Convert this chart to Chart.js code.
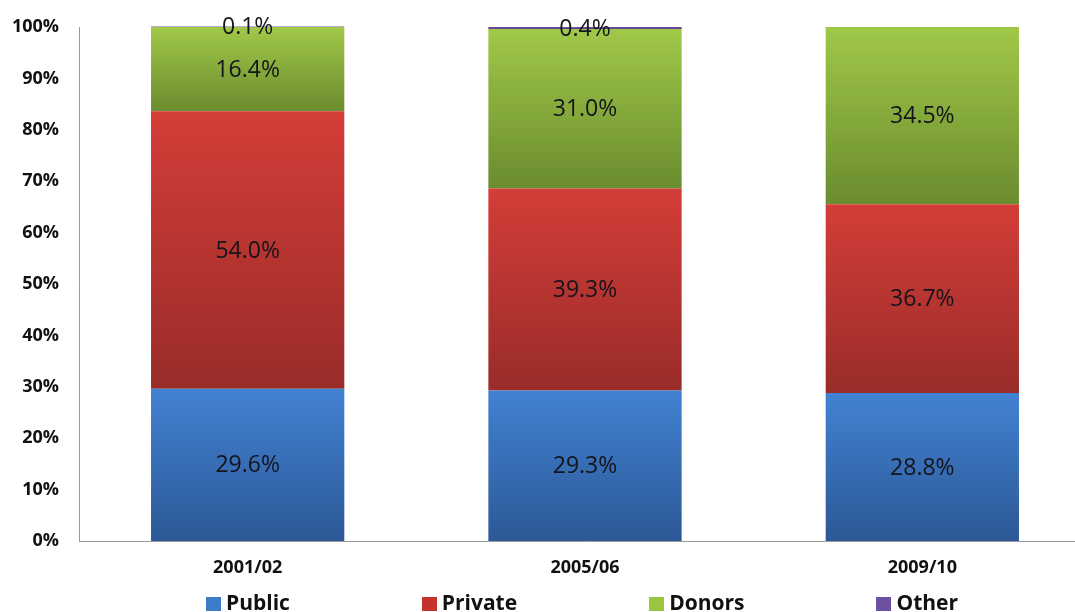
<!DOCTYPE html>
<html>
<head>
<meta charset="utf-8">
<script src="https://cdn.jsdelivr.net/npm/chart.js@4"></script>
<style>
  html, body { margin: 0; padding: 0; background: #fff; }
  #wrap { width: 1075px; height: 612px; overflow: hidden; position: relative; }
  canvas { display: block; }
</style>
</head>
<body>
<div id="wrap"><canvas id="c" width="1092" height="612" style="width:1092px;height:612px"></canvas></div>
<script>
// ---- data ----
const categories = ['2001/02', '2005/06', '2009/10'];
const seriesNames = ['Public', 'Private', 'Donors', 'Other'];
const publicShare = [29.6, 29.3, 28.8];
const privateShare = [54.0, 39.3, 36.7];
const donorsShare = [16.4, 31.0, 34.5];
const otherShare = [0.1, 0.4, 0];
const yTickValues = [0, 10, 20, 30, 40, 50, 60, 70, 80, 90, 100];

// ---- styles ----
const gradTop = ['#4282d2', '#d43d38', '#a0c848', '#7555a8'];
const gradBottom = ['#2c5896', '#992c29', '#6a8c2f', '#5a3f88'];
const legendColors = ['#3d7cc9', '#c4322d', '#9bc53d', '#6e4fa0'];
const FONT = '"Open Sans", "Noto Sans", "DejaVu Sans", sans-serif';

const allSeries = [publicShare, privateShare, donorsShare, otherShare];

function segmentFill(i) {
  return function (ctx) {
    const chart = ctx.chart;
    if (ctx.type !== 'data' || !chart.chartArea || !chart.scales.y) return gradTop[i];
    const idx = ctx.dataIndex;
    let start = 0;
    for (let k = 0; k < i; k++) start += allSeries[k][idx];
    const end = start + allSeries[i][idx];
    const y0 = chart.scales.y.getPixelForValue(start);
    const y1 = chart.scales.y.getPixelForValue(end);
    if (!isFinite(y0) || !isFinite(y1) || Math.abs(y0 - y1) < 0.01) return gradTop[i];
    const g = chart.ctx.createLinearGradient(0, y1, 0, y0);
    g.addColorStop(0, gradTop[i]);
    g.addColorStop(1, gradBottom[i]);
    return g;
  };
}

const datasets = allSeries.map((vals, i) => ({
  label: seriesNames[i],
  data: vals,
  backgroundColor: segmentFill(i),
  borderWidth: 0,
  categoryPercentage: 1.0,
  barPercentage: 0.573,
  clip: i === 3 ? false : undefined
}));

const valueLabels = {
  id: 'valueLabels',
  afterDatasetsDraw(chart) {
    const ctx = chart.ctx;
    ctx.save();
    ctx.font = '23px ' + FONT;
    ctx.fillStyle = '#14141c';
    ctx.textAlign = 'center';
    ctx.textBaseline = 'middle';
    chart.data.datasets.forEach((ds, di) => {
      const meta = chart.getDatasetMeta(di);
      meta.data.forEach((el, j) => {
        const v = ds.data[j];
        if (!(v > 0)) return;
        const p = el.getCenterPoint();
        ctx.fillText(v.toFixed(1) + '%', p.x, p.y + 1);
      });
    });
    ctx.restore();
  }
};

const bottomLegend = {
  id: 'bottomLegend',
  afterDraw(chart) {
    const ctx = chart.ctx;
    const area = chart.chartArea;
    ctx.save();
    ctx.font = 'bold 21px ' + FONT;
    ctx.textBaseline = 'alphabetic';
    ctx.textAlign = 'left';
    const box = 15, boxH = 14, gapText = 5, gapItem = 132;
    const names = chart.data.datasets.map(d => d.label);
    const widths = names.map(n => box + gapText + ctx.measureText(n).width);
    const total = widths.reduce((a, b) => a + b, 0) + gapItem * (names.length - 1);
    let x = (area.left + area.right) / 2 - 3 - total / 2;
    const baseline = area.bottom + 69;
    names.forEach((n, i) => {
      ctx.fillStyle = legendColors[i];
      ctx.fillRect(Math.round(x), baseline - 13, box, boxH);
      ctx.fillStyle = '#111';
      ctx.fillText(n, x + box + gapText, baseline);
      x += widths[i] + gapItem;
    });
    ctx.restore();
  }
};

new Chart(document.getElementById('c'), {
  type: 'bar',
  data: { labels: categories, datasets },
  options: {
    responsive: false,
    animation: false,
    devicePixelRatio: 1,
    layout: { padding: { top: 27, right: 1, bottom: 36, left: 0 } },
    plugins: {
      legend: { display: false },
      tooltip: { enabled: false }
    },
    scales: {
      x: {
        stacked: true,
        grid: { display: false, drawTicks: false },
        border: { display: true, color: '#9a9a9a', width: 1 },
        ticks: {
          color: '#111',
          font: { family: FONT, size: 18, weight: 'bold' },
          padding: 16
        },
        afterFit(s) { s.height = 35; }
      },
      y: {
        stacked: true,
        min: 0,
        max: 100,
        afterBuildTicks(s) { s.ticks = yTickValues.map(v => ({ value: v })); },
        grid: { display: false, drawTicks: false },
        border: { display: true, color: '#9a9a9a', width: 1 },
        ticks: {
          color: '#111',
          font: { family: FONT, size: 18, weight: 'bold' },
          padding: 20,
          callback: v => v + '%'
        },
        afterFit(s) { s.width = 79; s.paddingTop = 0; s.paddingBottom = 0; }
      }
    }
  },
  plugins: [valueLabels, bottomLegend]
});
</script>
</body>
</html>
